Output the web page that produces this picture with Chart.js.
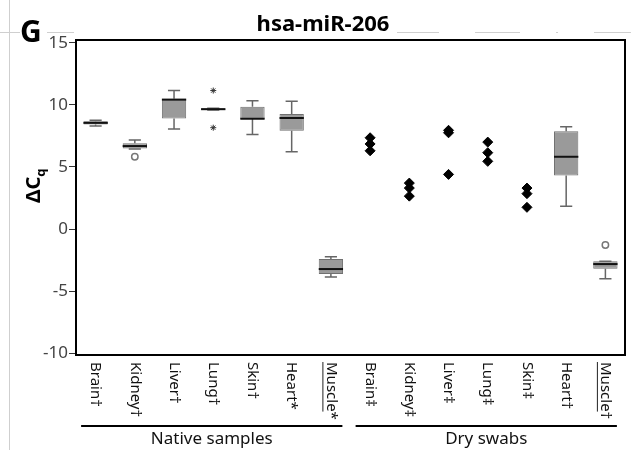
<!DOCTYPE html>
<html>
<head>
<meta charset="utf-8">
<script src="https://cdn.jsdelivr.net/npm/chart.js@4/dist/chart.umd.min.js"></script>
<style>
  body { margin: 0; background: #fff; }
  #chart { display: block; }
</style>
</head>
<body>
<canvas id="chart" width="631" height="450"></canvas>
<script>
const categories = ['Brain†', 'Kidney†', 'Liver†', 'Lung†', 'Skin†', 'Heart*', 'Muscle*',
                    'Brain‡', 'Kidney‡', 'Liver‡', 'Lung‡', 'Skin‡', 'Heart†', 'Muscle†'];
const underlinedWord = 'Muscle';
const groupNames = ['Native samples', 'Dry swabs'];
const groupRanges = [[0, 6], [7, 13]];
const yTicks = [-10, -5, 0, 5, 10, 15];

// box plot stats (null = shown as single dots)
const boxMin    = [8.30, 6.45, 8.05, 9.58, 7.62, 6.22, -3.86, null, null, null, null, null, 1.83, -4.00];
const boxQ1     = [8.42, 6.48, 8.90, 9.58, 8.85, 7.91, -3.62, null, null, null, null, null, 4.32, -3.20];
const boxMedian = [8.55, 6.68, 10.42, 9.65, 8.88, 8.94, -3.22, null, null, null, null, null, 5.82, -2.82];
const boxQ3     = [8.68, 6.90, 10.50, 9.72, 9.85, 9.26, -2.42, null, null, null, null, null, 7.87, -2.60];
const boxMax    = [8.75, 7.17, 11.15, 9.72, 10.33, 10.28, -2.23, null, null, null, null, null, 8.24, -2.60];

// dry swab single values
const dotCategory = [7, 7, 7, 8, 8, 8, 9, 9, 9, 10, 10, 10, 11, 11, 11];
const dotValues   = [7.35, 6.85, 6.30, 3.70, 3.30, 2.65, 7.95, 7.75, 4.40, 7.00, 6.15, 5.45, 3.30, 2.85, 1.75];

// outliers
const circleCategory = [1, 13];
const circleValues   = [5.82, -1.29];
const starCategory   = [3, 3];
const starValues     = [11.15, 8.16];

const FONT = "'Noto Sans', 'Open Sans', sans-serif";

const boxExtras = {
    id: 'boxExtras',
    afterDatasetsDraw(chart) {
        const { ctx, scales: { y } } = chart;
        const meta = chart.getDatasetMeta(0);
        ctx.save();
        meta.data.forEach((bar, i) => {
            if (boxMedian[i] == null) return;
            const cx = bar.x;
            const w = bar.width;
            const cap = w / 2;
            ctx.strokeStyle = '#666';
            ctx.lineWidth = 1.5;
            ctx.beginPath();
            // whiskers
            ctx.moveTo(cx, y.getPixelForValue(boxQ3[i]));
            ctx.lineTo(cx, y.getPixelForValue(boxMax[i]));
            ctx.moveTo(cx - cap / 2, y.getPixelForValue(boxMax[i]));
            ctx.lineTo(cx + cap / 2, y.getPixelForValue(boxMax[i]));
            ctx.moveTo(cx, y.getPixelForValue(boxQ1[i]));
            ctx.lineTo(cx, y.getPixelForValue(boxMin[i]));
            ctx.moveTo(cx - cap / 2, y.getPixelForValue(boxMin[i]));
            ctx.lineTo(cx + cap / 2, y.getPixelForValue(boxMin[i]));
            ctx.stroke();
            // median
            ctx.strokeStyle = '#111';
            ctx.lineWidth = 2;
            ctx.beginPath();
            ctx.moveTo(cx - w / 2, y.getPixelForValue(boxMedian[i]));
            ctx.lineTo(cx + w / 2, y.getPixelForValue(boxMedian[i]));
            ctx.stroke();
        });
        ctx.restore();
    }
};

const decorations = {
    id: 'decorations',
    afterDraw(chart) {
        const { ctx, chartArea: a, scales: { x } } = chart;
        ctx.save();

        // faint panel lines
        ctx.strokeStyle = '#cfcfcf';
        ctx.lineWidth = 1;
        ctx.beginPath();
        ctx.moveTo(9.5, 0); ctx.lineTo(9.5, 450);
        ctx.moveTo(0, 32.5); ctx.lineTo(20, 32.5);
        ctx.moveTo(47, 32.5); ctx.lineTo(74, 32.5);
        [[397, 439], [475, 520], [556, 558], [594, 631]].forEach(([s, e]) => {
            ctx.moveTo(s, 32.5); ctx.lineTo(e, 32.5);
        });
        ctx.stroke();

        // plot frame
        ctx.strokeStyle = '#000';
        ctx.lineWidth = 2;
        ctx.strokeRect(a.left, a.top, a.right - a.left, a.bottom - a.top);

        // category labels, rotated to read downward
        ctx.fillStyle = '#111';
        ctx.font = `15px ${FONT}`;
        ctx.textAlign = 'left';
        ctx.textBaseline = 'middle';
        categories.forEach((label, i) => {
            const px = x.getPixelForTick(i);
            ctx.save();
            ctx.translate(px, a.bottom + 7);
            ctx.rotate(Math.PI / 2);
            ctx.fillText(label, 0, 0);
            if (label.startsWith(underlinedWord)) {
                const uw = ctx.measureText(underlinedWord).width;
                ctx.strokeStyle = '#222';
                ctx.lineWidth = 1;
                ctx.beginPath();
                ctx.moveTo(0, 8);
                ctx.lineTo(uw, 8);
                ctx.stroke();
            }
            ctx.restore();
        });

        // group brackets
        ctx.strokeStyle = '#000';
        ctx.lineWidth = 2;
        ctx.font = `17px ${FONT}`;
        ctx.textAlign = 'center';
        ctx.textBaseline = 'alphabetic';
        groupRanges.forEach(([s, e], g) => {
            const x0 = x.getPixelForTick(s) - 14.5;
            const x1 = x.getPixelForTick(e) + 11.5;
            ctx.beginPath();
            ctx.moveTo(x0, 426);
            ctx.lineTo(x1, 426);
            ctx.stroke();
            ctx.fillText(groupNames[g], (x0 + x1) / 2, 444);
        });

        // title and panel letter
        ctx.fillStyle = '#000';
        ctx.font = `bold 22px ${FONT}`;
        ctx.fillText('hsa-miR-206', 323, 31);
        ctx.font = `bold 30px ${FONT}`;
        ctx.textAlign = 'left';
        ctx.fillText('G', 20, 42);

        // y axis title: ΔCq
        ctx.save();
        ctx.translate(40, 203);
        ctx.rotate(-Math.PI / 2);
        ctx.font = `bold 20px ${FONT}`;
        ctx.fillText('ΔC', 0, 0);
        const dw = ctx.measureText('ΔC').width;
        ctx.font = `bold 13px ${FONT}`;
        ctx.fillText('q', dw, 5);
        ctx.restore();

        ctx.restore();
    }
};

const ctx = document.getElementById('chart').getContext('2d');

new Chart(ctx, {
    type: 'bar',
    data: {
        labels: categories,
        datasets: [
            {
                type: 'bar',
                data: categories.map((c, i) => boxQ1[i] == null ? null : [boxQ1[i], boxQ3[i]]),
                backgroundColor: '#9a9a9a',
                borderColor: '#707070',
                borderWidth: 1,
                borderSkipped: false,
                barPercentage: 0.62,
                categoryPercentage: 1
            },
            {
                type: 'line',
                showLine: false,
                data: dotValues.map((v, i) => ({ x: categories[dotCategory[i]], y: v })),
                pointStyle: 'rectRot',
                pointRadius: 5,
                backgroundColor: '#000',
                borderColor: '#000',
                borderWidth: 1
            },
            {
                type: 'line',
                showLine: false,
                data: circleValues.map((v, i) => ({ x: categories[circleCategory[i]], y: v })),
                pointStyle: 'circle',
                pointRadius: 3.2,
                backgroundColor: '#fff',
                borderColor: '#777',
                borderWidth: 1.5
            },
            {
                type: 'line',
                showLine: false,
                data: starValues.map((v, i) => ({ x: categories[starCategory[i]], y: v })),
                pointStyle: 'star',
                pointRadius: 3,
                backgroundColor: '#333',
                borderColor: '#333',
                borderWidth: 1
            }
        ]
    },
    options: {
        responsive: false,
        animation: false,
        layout: { padding: { top: 40, right: 2, left: 0, bottom: 0 } },
        plugins: {
            legend: { display: false },
            tooltip: { enabled: false },
            title: { display: false }
        },
        scales: {
            x: {
                type: 'category',
                offset: true,
                grid: { display: false },
                border: { display: false },
                ticks: { display: false },
                afterFit: (scale) => { scale.height = 95; }
            },
            y: {
                min: -10.14,
                max: 15.22,
                afterBuildTicks: (scale) => { scale.ticks = yTicks.map(v => ({ value: v })); },
                afterFit: (scale) => { scale.width = 76; },
                grid: { drawOnChartArea: false, drawTicks: true, tickLength: 7, color: '#333', lineWidth: 1 },
                border: { display: false },
                ticks: {
                    color: '#444',
                    padding: 1,
                    font: { family: FONT, size: 17 }
                }
            }
        }
    },
    plugins: [boxExtras, decorations]
});
</script>
</body>
</html>
